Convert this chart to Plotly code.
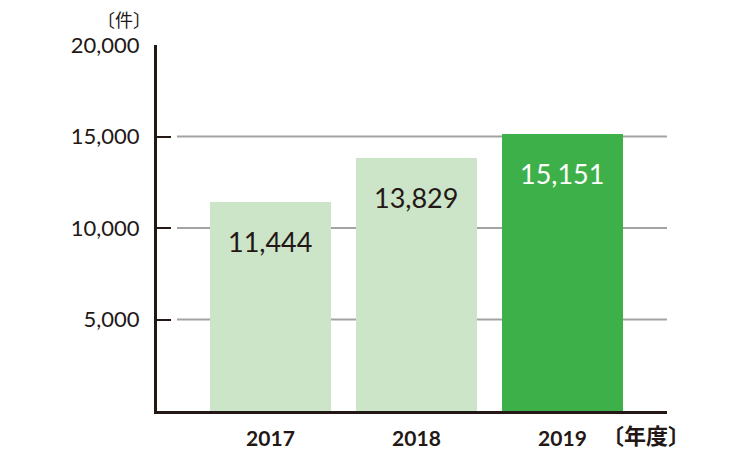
import plotly.graph_objects as go

years = ["2017", "2018", "2019"]
counts = [11444, 13829, 15151]
bar_colors = ["#cce4c8", "#cce4c8", "#3eb049"]
label_colors = ["#231815", "#231815", "#ffffff"]
y_ticks = [5000, 10000, 15000, 20000]
y_tick_text = ["5,000", "10,000", "15,000", "20,000"]
unit_y = "〔件〕"
unit_x = "〔年度〕"

INK = "#231815"
FONT = "Lato, 'Noto Sans CJK JP', sans-serif"

# page body has an 8px margin; figure is sized so it fits the 750x452 window
O = 8
W, H = 750 - O, 452 - O
L, T = 157 - O, 45 - O
R = 750 - 667
B = 452 - 411.5
PW, PH = W - L - R, H - T - B
BOT = 411.5  # screen y of the plot bottom

fig = go.Figure()
fig.add_trace(go.Bar(
    x=years, y=counts, marker=dict(color=bar_colors, line=dict(width=0)),
    width=0.83, hoverinfo="skip",
))

# value labels inside bars, near the top
for i, (v, c) in enumerate(zip(counts, label_colors)):
    fig.add_annotation(x=i, y=v, xref="x", yref="y", text=f"{v:,}", showarrow=False,
                       xanchor="center", yanchor="middle", yshift=-40,
                       font=dict(family=FONT, size=27, color=c))

# grid lines (start a little right of the axis ticks)
for t in y_ticks[:-1]:
    fig.add_shape(type="line", xref="paper", yref="y",
                  x0=(177 - 157) / PW, x1=1, y0=t, y1=t,
                  line=dict(color="#a3a3a3", width=2), layer="below")

fig.add_annotation(xref="paper", yref="paper", x=(124 - 157) / PW, y=(BOT - 20) / PH,
                   text=unit_y, showarrow=False, xanchor="center", yanchor="middle",
                   borderpad=0, font=dict(family=FONT, size=18, color=INK))
fig.add_annotation(xref="paper", yref="paper", x=(646 - 157) / PW, y=-(436 - BOT) / PH,
                   text=unit_x, showarrow=False, xanchor="center", yanchor="middle",
                   font=dict(family=FONT, size=22, color=INK, weight="bold"))

fig.update_layout(
    width=W, height=H,
    margin=dict(l=L, r=R, t=T, b=B, pad=0, autoexpand=False),
    paper_bgcolor="white", plot_bgcolor="white",
    showlegend=False, bargap=0,
    xaxis=dict(type="category", range=[-0.777, 2.716], showgrid=False, automargin=False,
               showline=True, linecolor=INK, linewidth=3, ticks="",
               tickfont=dict(family=FONT, size=21, color=INK, weight="bold"),
               ticklabelstandoff=7, zeroline=False),
    yaxis=dict(range=[0, 20000], tickvals=y_ticks, ticktext=y_tick_text, automargin=False,
               showgrid=False, zeroline=False, showline=True, linecolor=INK,
               linewidth=3, ticks="inside", ticklen=14, tickwidth=2, tickcolor=INK,
               tickfont=dict(family=FONT, size=22, color=INK),
               ticklabelstandoff=10),
)

fig.write_html("out.html")
